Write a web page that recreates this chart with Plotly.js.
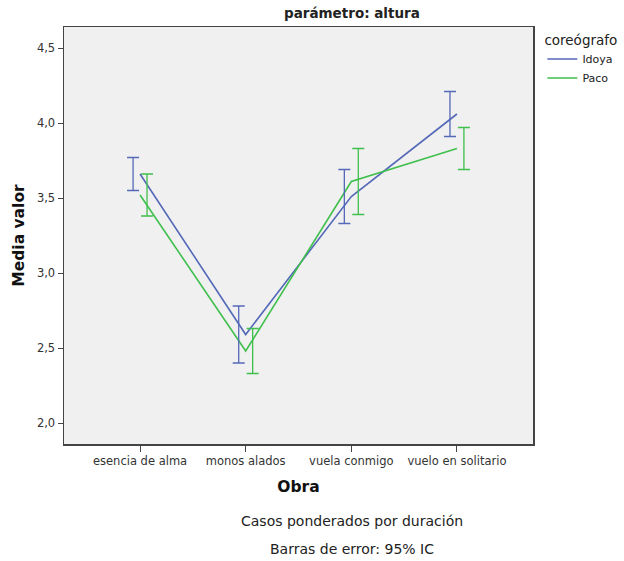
<!DOCTYPE html>
<html>
<head>
<meta charset="utf-8">
<script src="https://cdn.plot.ly/plotly-3.0.1.min.js"></script>
<style>html,body{margin:0;padding:0;background:#fff;}#chart{width:624px;height:561px;}</style>
</head>
<body>
<div id="chart"></div>
<script>
const categories = ["esencia de alma", "monos alados", "vuela conmigo", "vuelo en solitario"];
const idoyaMean = [3.66, 2.59, 3.51, 4.06];
const idoyaLow  = [3.55, 2.40, 3.33, 3.91];
const idoyaHigh = [3.77, 2.78, 3.69, 4.21];
const pacoMean  = [3.52, 2.48, 3.61, 3.83];
const pacoLow   = [3.38, 2.33, 3.39, 3.69];
const pacoHigh  = [3.66, 2.63, 3.83, 3.97];
const yTicks = [2.0, 2.5, 3.0, 3.5, 4.0, 4.5];
const yTickText = ["2,0", "2,5", "3,0", "3,5", "4,0", "4,5"];

const blue = "#5468b8";
const green = "#3fbf4c";
const idx = categories.map((c, i) => i);
const dodge = 0.066;

const traces = [
  {x: idx, y: idoyaMean, mode: "lines", name: "Idoya", line: {color: blue, width: 1.6}, showlegend: true},
  {x: idx, y: pacoMean, mode: "lines", name: "Paco", line: {color: green, width: 1.6}, showlegend: true},
  {x: idx.map(i => i - dodge), y: idoyaMean, mode: "markers", marker: {opacity: 0, size: 1, color: blue}, showlegend: false, hoverinfo: "skip",
   error_y: {type: "data", symmetric: false, array: idoyaHigh.map((h, i) => h - idoyaMean[i]), arrayminus: idoyaMean.map((m, i) => m - idoyaLow[i]), color: blue, thickness: 1.3, width: 6}},
  {x: idx.map(i => i + dodge), y: pacoMean, mode: "markers", marker: {opacity: 0, size: 1, color: green}, showlegend: false, hoverinfo: "skip",
   error_y: {type: "data", symmetric: false, array: pacoHigh.map((h, i) => h - pacoMean[i]), arrayminus: pacoMean.map((m, i) => m - pacoLow[i]), color: green, thickness: 1.3, width: 6}}
];

const font = "DejaVu Sans, sans-serif";
const layout = {
  width: 624, height: 561,
  margin: {l: 64, r: 91, t: 27, b: 117, autoexpand: false},
  paper_bgcolor: "#ffffff", plot_bgcolor: "#f0f0f0",
  font: {family: font, color: "#222", size: 11},
  showlegend: true,
  legend: {x: 1.02, y: 1.0, xanchor: "left", yanchor: "top", bgcolor: "rgba(0,0,0,0)",
    title: {text: "coreógrafo", font: {size: 13.5, color: "#222"}}, font: {size: 11, color: "#222"},
    tracegroupgap: 0, itemwidth: 30},
  xaxis: {range: [-0.72, 3.72], tickvals: idx, ticktext: categories, showgrid: false, zeroline: false,
    showline: true, linecolor: "#444", linewidth: 1.5, mirror: true, ticks: "outside", ticklen: 6, tickcolor: "#444",
    tickfont: {size: 11.5, color: "#333"},
    title: {text: "<b>Obra</b>", font: {size: 15.5, color: "#111"}, standoff: 14}},
  yaxis: {range: [1.86, 4.64], tickvals: yTicks, ticktext: yTickText, showgrid: false, zeroline: false,
    showline: true, linecolor: "#444", linewidth: 1.5, mirror: true, ticks: "outside", ticklen: 5, tickcolor: "#444",
    tickfont: {size: 11.5, color: "#333"},
    title: {text: "<b>Media valor</b>", font: {size: 15.5, color: "#111"}, standoff: 8}},
  annotations: [
    {text: "<b>parámetro: altura</b>", xref: "paper", yref: "paper", x: (352 - 64) / 469, y: 1, yshift: 14, xanchor: "center", yanchor: "middle", showarrow: false, font: {size: 13.5, color: "#222"}},
    {text: "Casos ponderados por duración", xref: "paper", yref: "paper", x: (352 - 64) / 469, y: -(521 - 444) / 417, xanchor: "center", yanchor: "middle", showarrow: false, font: {size: 14, color: "#222"}},
    {text: "Barras de error: 95% IC", xref: "paper", yref: "paper", x: (352 - 64) / 469, y: -(549 - 444) / 417, xanchor: "center", yanchor: "middle", showarrow: false, font: {size: 14, color: "#222"}}
  ]
};

Plotly.newPlot("chart", traces, layout, {displayModeBar: false, staticPlot: true});
</script>
</body>
</html>
